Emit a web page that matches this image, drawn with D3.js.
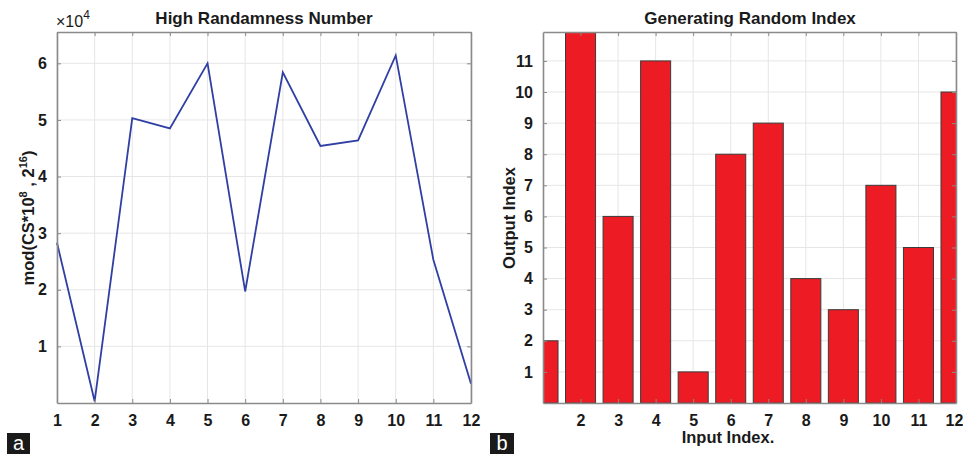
<!DOCTYPE html>
<html lang="en">
<head>
<script src="https://d3js.org/d3.v7.min.js"></script>
<style>
body { margin: 0; background: #fff; }
svg text { font-family: Arial, "Liberation Sans", sans-serif; fill: #1a1a1a; }
.tick text { font-weight: bold; font-size: 16px; }
.title { font-weight: bold; font-size: 17px; text-anchor: middle; }
.lab { font-weight: bold; font-size: 16.5px; text-anchor: middle; }
</style>
</head>
<body>
<script>
// panel a: values of mod(CS*10^8, 2^16) per index
var lineX = [1, 2, 3, 4, 5, 6, 7, 8, 9, 10, 11, 12];
var lineY = [28300, 300, 50300, 48500, 60000, 19700, 58400, 45400, 46400, 61400, 25300, 3400];
var lineYTicks = [1, 2, 3, 4, 5, 6];

// panel b: output index for each input index
var barX = [1, 2, 3, 4, 5, 6, 7, 8, 9, 10, 11, 12];
var barY = [2, 12, 6, 11, 1, 8, 9, 4, 3, 7, 5, 10];
var barYTicks = [1, 2, 3, 4, 5, 6, 7, 8, 9, 10, 11];
var barXTicks = [2, 3, 4, 5, 6, 7, 8, 9, 10, 11, 12];

var width = 963, height = 455;
var svg = d3.select("body").append("svg")
  .attr("width", width)
  .attr("height", height);

var plotTop = 32, plotBottom = 403;
var axisCol = "#8a8a8a", gridCol = "#e6e6e6";

// ---------- panel a ----------
var xa = d3.scaleLinear().domain([1, 12]).range([57, 471]);
var ya = d3.scaleLinear().domain([0, 65536]).range([plotBottom, plotTop]);

var ga = svg.append("g");
ga.append("g").selectAll("line").data(lineX).enter().append("line")
  .attr("x1", d => xa(d)).attr("x2", d => xa(d))
  .attr("y1", plotTop).attr("y2", plotBottom)
  .attr("stroke", gridCol);
ga.append("g").selectAll("line").data(lineYTicks).enter().append("line")
  .attr("x1", 57).attr("x2", 471)
  .attr("y1", d => ya(d * 1e4)).attr("y2", d => ya(d * 1e4))
  .attr("stroke", gridCol);

ga.append("path")
  .datum(lineX.map((d, i) => [d, lineY[i]]))
  .attr("fill", "none")
  .attr("stroke", "#2f3fa3")
  .attr("stroke-width", 1.8)
  .attr("d", d3.line().x(d => xa(d[0])).y(d => ya(d[1])));

function styleAxis(g) {
  g.selectAll(".domain").attr("stroke", axisCol).attr("stroke-width", 1.6);
  g.selectAll(".tick line").attr("stroke", axisCol).attr("stroke-width", 1);
}

ga.append("g").attr("transform", "translate(0," + plotBottom + ")")
  .call(d3.axisBottom(xa).tickValues(lineX).tickSize(-4).tickSizeOuter(0).tickPadding(12))
  .call(styleAxis);
ga.append("g").attr("transform", "translate(0," + plotTop + ")")
  .call(d3.axisTop(xa).tickValues(lineX).tickSize(-4).tickSizeOuter(0).tickFormat(""))
  .call(styleAxis);
ga.append("g").attr("transform", "translate(57,0)")
  .call(d3.axisLeft(ya).tickValues(lineYTicks.map(d => d * 1e4)).tickFormat(d => d / 1e4).tickSize(-4).tickSizeOuter(0).tickPadding(10))
  .call(styleAxis);
ga.append("g").attr("transform", "translate(471,0)")
  .call(d3.axisRight(ya).tickValues(lineYTicks.map(d => d * 1e4)).tickSize(-4).tickSizeOuter(0).tickFormat(""))
  .call(styleAxis);

ga.append("text").attr("x", 56).attr("y", 27).style("font-size", "16px")
  .text("\u00d710").append("tspan").attr("dy", -8).style("font-size", "12px").text("4");
ga.append("text").attr("class", "title").attr("x", 264).attr("y", 24).text("High Randamness Number");

var yl = ga.append("text").attr("class", "lab")
  .attr("transform", "translate(34,218) rotate(-90)");
yl.append("tspan").text("mod(CS*10");
yl.append("tspan").attr("dy", -7).style("font-size", "11px").text("8");
yl.append("tspan").attr("dy", 7).text(" , 2");
yl.append("tspan").attr("dy", -7).style("font-size", "11px").text("16");
yl.append("tspan").attr("dy", 7).text(")");

// ---------- panel b ----------
var xb = d3.scaleLinear().domain([1, 12]).range([543, 956]);
var yb = d3.scaleLinear().domain([0, 11.93]).range([plotBottom, plotTop]);
var bw = (xb(2) - xb(1)) * 0.8;

var gb = svg.append("g");
gb.append("defs").append("clipPath").attr("id", "clipb")
  .append("rect").attr("x", 543).attr("y", plotTop).attr("width", 956 - 543).attr("height", plotBottom - plotTop);

gb.append("g").selectAll("line").data(barXTicks).enter().append("line")
  .attr("x1", d => xb(d)).attr("x2", d => xb(d))
  .attr("y1", plotTop).attr("y2", plotBottom)
  .attr("stroke", gridCol);
gb.append("g").selectAll("line").data(barYTicks).enter().append("line")
  .attr("x1", 543).attr("x2", 956)
  .attr("y1", d => yb(d)).attr("y2", d => yb(d))
  .attr("stroke", gridCol);

gb.append("g").attr("clip-path", "url(#clipb)")
  .selectAll("rect").data(barX).enter().append("rect")
  .attr("x", d => xb(d) - bw / 2)
  .attr("width", bw)
  .attr("y", (d, i) => yb(barY[i]))
  .attr("height", (d, i) => plotBottom - yb(barY[i]))
  .attr("fill", "#ed1c24")
  .attr("stroke", "#3a3a3a")
  .attr("stroke-width", 1);

gb.append("g").attr("transform", "translate(0," + plotBottom + ")")
  .call(d3.axisBottom(xb).tickValues(barXTicks).tickSize(-4).tickSizeOuter(0).tickPadding(12))
  .call(styleAxis)
  .call(g => g.selectAll(".tick:last-of-type text").attr("dx", -2));
gb.append("g").attr("transform", "translate(0," + plotTop + ")")
  .call(d3.axisTop(xb).tickValues(barXTicks).tickSize(-4).tickSizeOuter(0).tickFormat(""))
  .call(styleAxis);
gb.append("g").attr("transform", "translate(543,0)")
  .call(d3.axisLeft(yb).tickValues(barYTicks).tickSize(-4).tickSizeOuter(0).tickPadding(10))
  .call(styleAxis);
gb.append("g").attr("transform", "translate(956,0)")
  .call(d3.axisRight(yb).tickValues(barYTicks).tickSize(-4).tickSizeOuter(0).tickFormat(""))
  .call(styleAxis);

gb.append("text").attr("class", "title").attr("x", 750).attr("y", 24).text("Generating Random Index");
gb.append("text").attr("class", "lab").attr("x", 728).attr("y", 443).text("Input Index.");
gb.append("text").attr("class", "lab").attr("transform", "translate(515,218) rotate(-90)").text("Output Index");

// ---------- panel letters ----------
[["a", 7, 30], ["b", 490, 514]].forEach(function(p) {
  svg.append("rect").attr("x", p[1]).attr("y", 433).attr("width", p[2] - p[1]).attr("height", 21).attr("fill", "#1a1a1a");
  svg.append("text").attr("x", (p[1] + p[2]) / 2).attr("y", 450)
    .attr("text-anchor", "middle").style("font-size", "20px").style("fill", "#fff").text(p[0]);
});
</script>
</body>
</html>
